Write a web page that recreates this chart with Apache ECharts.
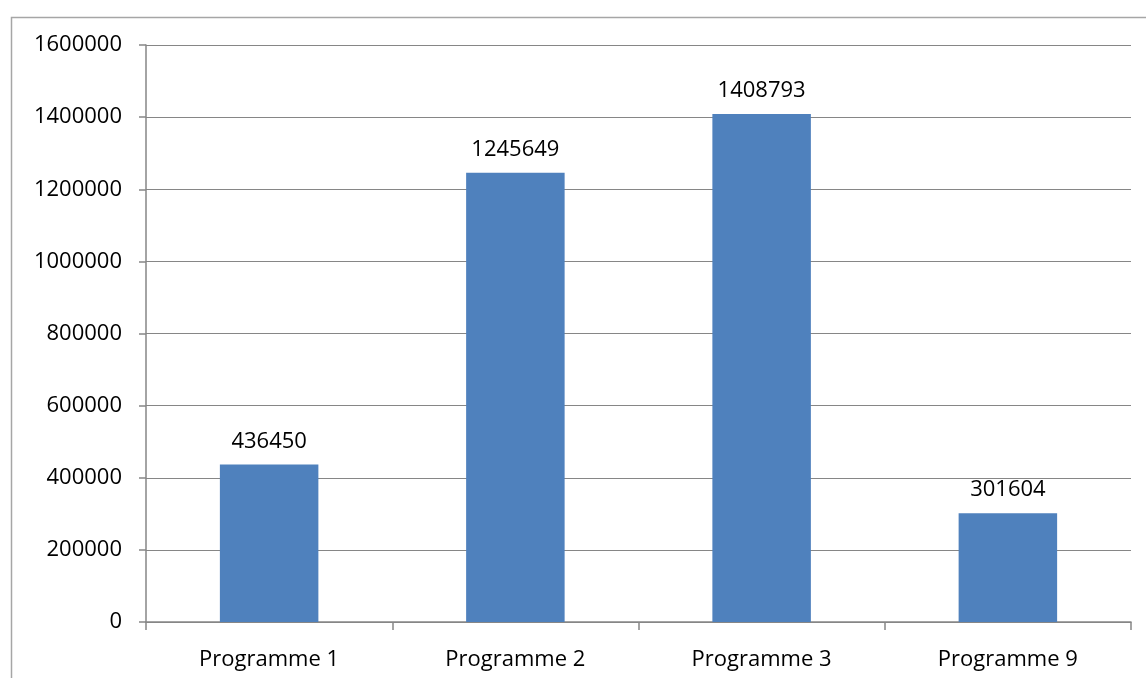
<!DOCTYPE html>
<html>
<head>
<meta charset="utf-8">
<script src="https://cdn.jsdelivr.net/npm/echarts@6/dist/echarts.min.js"></script>
<style>html,body{margin:0;padding:0;background:#fff}#c{width:1146px;height:678px}</style>
</head>
<body>
<div id="c"></div>
<script>
const categories = ["Programme 1", "Programme 2", "Programme 3", "Programme 9"];
const values = [436450, 1245649, 1408793, 301604];
const yTicks = [0, 200000, 400000, 600000, 800000, 1000000, 1200000, 1400000, 1600000];

const chart = echarts.init(document.getElementById('c'));
const font = '"Open Sans", "Liberation Sans", sans-serif';
chart.setOption({
  animation: false,
  backgroundColor: '#fff',
  graphic: [{
    type: 'rect', left: 9, top: 15, z: -1,
    shape: { width: 1200, height: 700 },
    style: { fill: 'none', stroke: '#a6a6a6', lineWidth: 1.5 }
  }],
  grid: { left: 146, right: 15, top: 45, bottom: 56 },
  xAxis: {
    type: 'category',
    data: categories,
    axisLine: { lineStyle: { color: '#868686', width: 1.5 } },
    axisTick: { show: true, length: 8, lineStyle: { color: '#868686', width: 1.5 } },
    axisLabel: { color: '#000', fontSize: 22, fontFamily: font, margin: 27 }
  },
  yAxis: {
    type: 'value',
    min: yTicks[0], max: yTicks[yTicks.length - 1], interval: 200000,
    axisLine: { show: true, lineStyle: { color: '#868686', width: 1.5 } },
    axisTick: { show: true, length: 7, lineStyle: { color: '#868686', width: 1.5 } },
    splitLine: { lineStyle: { color: '#868686', width: 1.2 } },
    axisLabel: { color: '#000', fontSize: 22, fontFamily: font, margin: 24, formatter: v => String(v) }
  },
  series: [{
    type: 'bar',
    data: values,
    barWidth: '40%',
    itemStyle: { color: '#4f81bd' },
    label: { show: true, position: 'top', distance: 12, color: '#000', fontSize: 22, fontFamily: font, formatter: p => String(p.value) }
  }]
});
</script>
</body>
</html>
